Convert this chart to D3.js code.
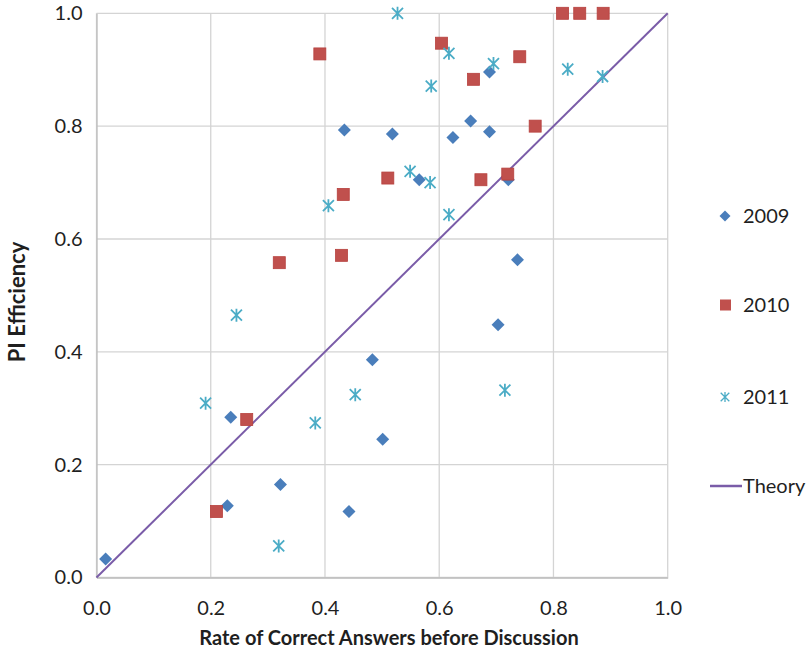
<!DOCTYPE html>
<html>
<head>
<meta charset="utf-8">
<script src="https://cdn.jsdelivr.net/npm/d3@7"></script>
<style>
  body { margin: 0; background: #fff; }
  svg text { font-family: Lato, "Open Sans", sans-serif; fill: #1f1f1f; }
</style>
</head>
<body>
<div id="chart"></div>
<script>
// values: [rate before discussion, PI efficiency]
const data2009 = [
  [0.016, 0.033], [0.229, 0.127], [0.235, 0.284], [0.322, 0.165], [0.442, 0.117],
  [0.483, 0.386], [0.501, 0.245], [0.434, 0.793], [0.518, 0.786], [0.565, 0.705],
  [0.624, 0.780], [0.655, 0.809], [0.688, 0.790], [0.688, 0.896], [0.721, 0.705],
  [0.737, 0.563], [0.703, 0.448]
];
const data2010 = [
  [0.391, 0.928], [0.432, 0.679], [0.429, 0.571], [0.320, 0.558], [0.510, 0.708],
  [0.604, 0.947], [0.660, 0.883], [0.741, 0.923], [0.768, 0.800], [0.673, 0.705],
  [0.720, 0.715], [0.816, 1.0], [0.846, 1.0], [0.887, 1.0], [0.210, 0.117],
  [0.263, 0.280]
];
const data2011 = [
  [0.527, 1.0], [0.617, 0.929], [0.586, 0.871], [0.695, 0.911], [0.825, 0.901],
  [0.886, 0.888], [0.549, 0.720], [0.584, 0.700], [0.617, 0.643], [0.406, 0.659],
  [0.245, 0.465], [0.191, 0.309], [0.383, 0.274], [0.453, 0.324], [0.319, 0.056],
  [0.715, 0.332]
];
const theory = [[0, 0], [1, 1]];
const ticks = [0, 0.2, 0.4, 0.6, 0.8, 1.0];
const legendNames = ["2009", "2010", "2011", "Theory"];

const width = 808, height = 656;
const plotLeft = 96.5, plotRight = 667.7, plotTop = 13.3, plotBottom = 577.5;

const svg = d3.select("#chart").append("svg")
    .attr("width", width)
    .attr("height", height);

const x = d3.scaleLinear().domain([0, 1]).range([plotLeft, plotRight]);
const y = d3.scaleLinear().domain([0, 1]).range([plotBottom, plotTop]);

// grid
svg.append("g").selectAll("line")
    .data(ticks)
    .enter().append("line")
    .attr("x1", plotLeft).attr("x2", plotRight)
    .attr("y1", d => y(d)).attr("y2", d => y(d))
    .attr("stroke", "#d4d4d4").attr("stroke-width", 1.3);

svg.append("g").selectAll("line")
    .data(ticks)
    .enter().append("line")
    .attr("x1", d => x(d)).attr("x2", d => x(d))
    .attr("y1", plotTop).attr("y2", plotBottom)
    .attr("stroke", "#d4d4d4").attr("stroke-width", 1.3);

// axes
const xAxis = svg.append("g")
    .attr("transform", `translate(0,${plotBottom})`)
    .call(d3.axisBottom(x).tickValues(ticks).tickFormat(d3.format(".1f")).tickSize(0).tickPadding(23));
const yAxis = svg.append("g")
    .attr("transform", `translate(${plotLeft},0)`)
    .call(d3.axisLeft(y).tickValues(ticks).tickFormat(d3.format(".1f")).tickSize(0).tickPadding(14));

[xAxis, yAxis].forEach(a => {
  a.select(".domain").attr("stroke", "#bdbdbd").attr("stroke-width", 1.3);
  a.selectAll("text")
    .style("font-family", "Lato, 'Open Sans', sans-serif")
    .style("font-size", "20px")
    .attr("fill", "#1f1f1f");
});

// theory line
const line = d3.line().x(d => x(d[0])).y(d => y(d[1]));
svg.append("path")
    .datum(theory)
    .attr("d", line)
    .attr("fill", "none")
    .attr("stroke", "#7a5ca8")
    .attr("stroke-width", 2);

// markers
const diamond = "M0,-6.5L6.5,0L0,6.5L-6.5,0Z";
const star = "M0,-6.5V6.5M-5.5,-5.5L5.5,5.5M-5.5,5.5L5.5,-5.5";

svg.append("g").selectAll("path")
    .data(data2009)
    .enter().append("path")
    .attr("d", diamond)
    .attr("transform", d => `translate(${x(d[0])},${y(d[1])})`)
    .attr("fill", "#4a7ebb");

svg.append("g").selectAll("rect")
    .data(data2010)
    .enter().append("rect")
    .attr("x", d => x(d[0]) - 6)
    .attr("y", d => y(d[1]) - 6)
    .attr("width", 12).attr("height", 12)
    .attr("fill", "#c0504d")
    .attr("stroke", "#b7413e").attr("stroke-width", 0.8);

svg.append("g").selectAll("path")
    .data(data2011)
    .enter().append("path")
    .attr("d", star)
    .attr("transform", d => `translate(${x(d[0])},${y(d[1])})`)
    .attr("fill", "none")
    .attr("stroke", "#4bacc6")
    .attr("stroke-width", 1.8);

// legend
const legend = svg.append("g");
const ly = [216, 305, 397, 486];

legend.append("path").attr("d", "M0,-5.5L5.5,0L0,5.5L-5.5,0Z")
    .attr("transform", `translate(725,${ly[0]})`).attr("fill", "#4a7ebb");
legend.append("rect").attr("x", 720).attr("y", ly[1] - 5.5)
    .attr("width", 11).attr("height", 11).attr("fill", "#c0504d");
legend.append("path").attr("d", "M0,-5V5M-4.3,-4.3L4.3,4.3M-4.3,4.3L4.3,-4.3")
    .attr("transform", `translate(725,${ly[2]})`)
    .attr("fill", "none").attr("stroke", "#4bacc6").attr("stroke-width", 1.3);
legend.append("line")
    .attr("x1", 710).attr("x2", 742).attr("y1", ly[3]).attr("y2", ly[3])
    .attr("stroke", "#7a5ca8").attr("stroke-width", 2.5);

legend.selectAll("text")
    .data(legendNames)
    .enter().append("text")
    .attr("x", 743)
    .attr("y", (d, i) => ly[i])
    .attr("dy", "0.35em")
    .style("font-size", "20px")
    .text(d => d);

// axis titles
svg.append("text")
    .attr("x", 389)
    .attr("y", 645)
    .attr("text-anchor", "middle")
    .style("font-size", "20px")
    .style("font-weight", "bold")
    .text("Rate of Correct Answers before Discussion");

svg.append("text")
    .attr("transform", "translate(25,302) rotate(-90)")
    .attr("text-anchor", "middle")
    .style("font-size", "22px")
    .style("font-weight", "bold")
    .text("PI Efficiency");
</script>
</body>
</html>
